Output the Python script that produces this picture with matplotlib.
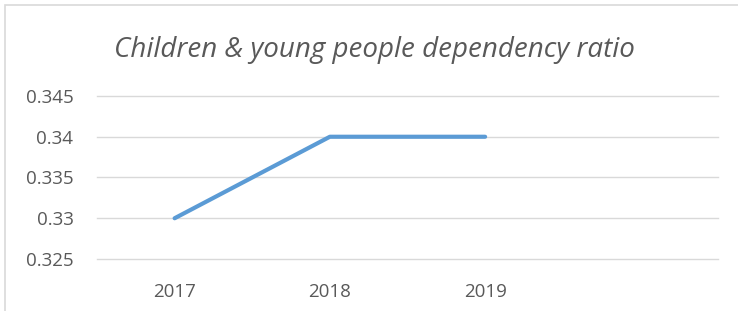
import matplotlib
matplotlib.use("Agg")
import matplotlib.pyplot as plt
from matplotlib.patches import Rectangle

# data
years = ["2017", "2018", "2019", ""]
ratio = [0.33, 0.34, 0.34]
yticks = [0.325, 0.33, 0.335, 0.34, 0.345]
ytick_labels = ["0.325", "0.33", "0.335", "0.34", "0.345"]

plt.rcParams["font.family"] = ["Open Sans", "DejaVu Sans"]
txt = "#595959"
grid = "#d9d9d9"

fig = plt.figure(figsize=(7.38, 3.11), dpi=100)
W, H = 738, 311
ax = fig.add_axes([97 / W, 52 / H, (718 - 97) / W, (259 - 96) / H])

# chart outer border (right and bottom run off the picture)
fig.patches.append(Rectangle((4.5 / W, -0.1), 1.2, (1 - 5 / H) + 0.1,
                             transform=fig.transFigure, fill=False,
                             edgecolor=grid, lw=1.2, clip_on=False))

x = list(range(len(years)))
ax.plot(x[:len(ratio)], ratio, color="#5b9bd5", lw=3, solid_capstyle="round", zorder=3)

ax.set_xlim(-0.5, len(years) - 0.5)
ax.set_ylim(0.325, 0.345)
ax.set_yticks(yticks)
ax.set_yticklabels(ytick_labels)
ax.set_xticks(x)
ax.set_xticklabels(years)
for t in yticks:
    ax.axhline(t, color=grid, lw=1, zorder=1, clip_on=False)

for s in ax.spines.values():
    s.set_visible(False)
ax.tick_params(length=0, labelsize=13.5, colors=txt)
ax.tick_params(axis="y", pad=17)
ax.tick_params(axis="x", pad=17)

fig.text(0.5 * (108 + 640) / W, 1 - 50 / H, "Children & young people dependency ratio",
         ha="center", va="center", fontsize=20, style="italic", color=txt)

fig.savefig("out.png", dpi=100)
